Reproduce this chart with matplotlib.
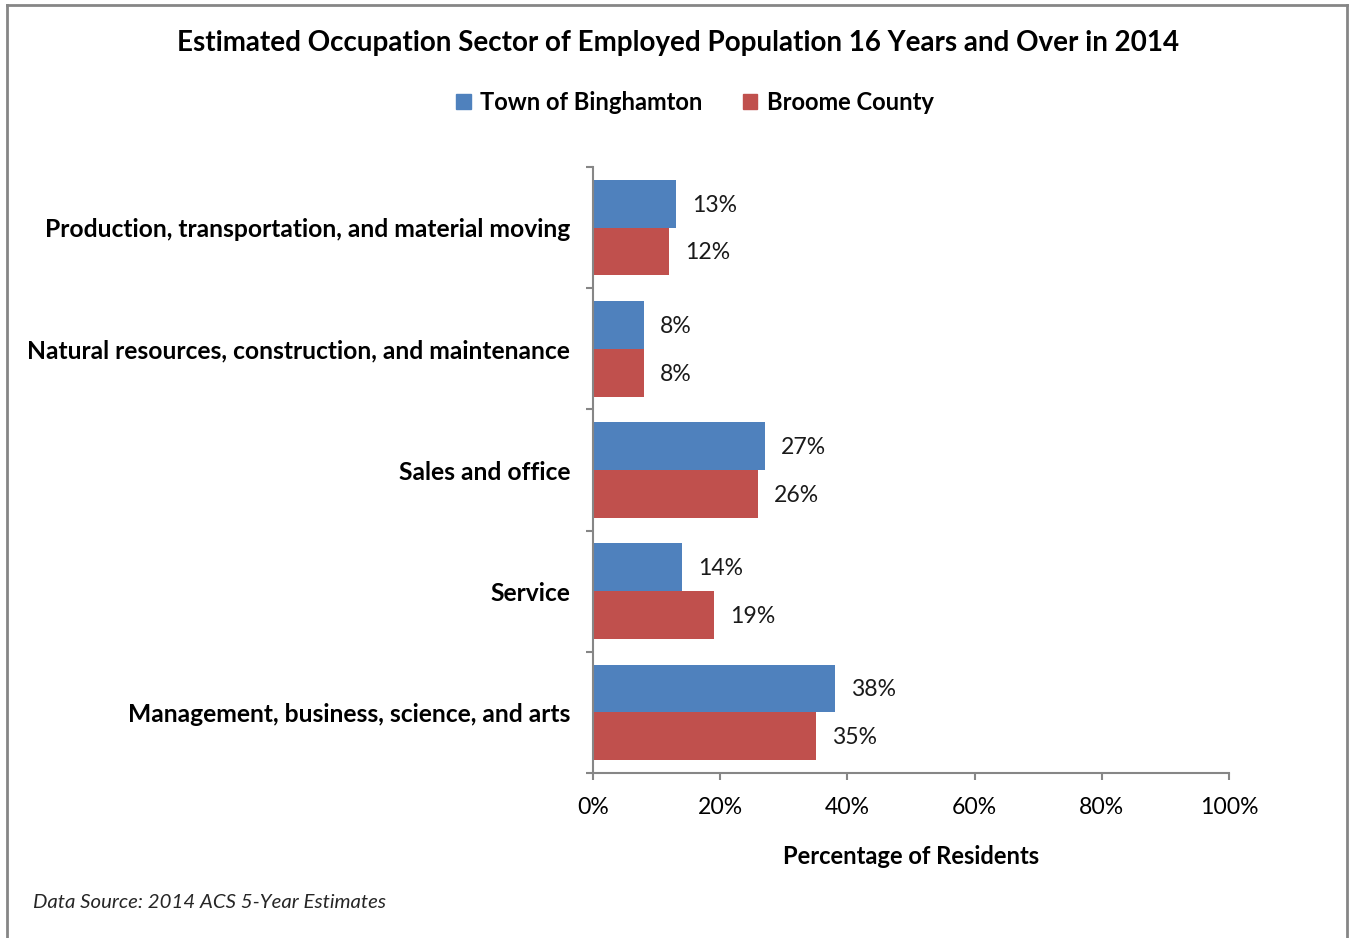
import matplotlib
matplotlib.use("Agg")
import matplotlib.pyplot as plt
from matplotlib.patches import Patch
from matplotlib.lines import Line2D
from matplotlib.ticker import FuncFormatter
import numpy as np

categories = [
    "Management, business, science, and arts",
    "Service",
    "Sales and office",
    "Natural resources, construction, and maintenance",
    "Production, transportation, and material moving",
]
town_values = [38, 14, 27, 8, 13]
county_values = [35, 19, 26, 8, 12]
series_names = ["Town of Binghamton", "Broome County"]
x_ticks = [0, 20, 40, 60, 80, 100]

BLUE = "#4F81BD"
RED = "#C0504D"
GREY = "#868686"
FONT = ["Lato", "DejaVu Sans"]

plt.rcParams["font.family"] = FONT

W, H = 1349, 938
fig = plt.figure(figsize=(W / 100, H / 100), dpi=100)
ax = fig.add_axes([593 / W, 1 - 773 / H, (1229 - 593) / W, (773 - 167) / H])

y = np.arange(len(categories))
h = 0.395
ax.barh(y + h / 2, town_values, height=h, color=BLUE, label=series_names[0])
ax.barh(y - h / 2, county_values, height=h, color=RED, label=series_names[1])

for yi, tv, cv in zip(y, town_values, county_values):
    ax.annotate(f"{tv}%", (tv, yi + h / 2), xytext=(11.5, -1), textcoords="offset points",
                va="center", ha="left", fontsize=16.6, color="#1a1a1a")
    ax.annotate(f"{cv}%", (cv, yi - h / 2), xytext=(11.5, -1), textcoords="offset points",
                va="center", ha="left", fontsize=16.6, color="#1a1a1a")

ax.set_xlim(0, 100)
ax.set_ylim(-0.5, len(categories) - 0.5)
ax.set_xticks(x_ticks)
ax.xaxis.set_major_formatter(FuncFormatter(lambda v, p: f"{v:.0f}%"))
ax.set_yticks(y)
ax.set_yticklabels(categories, fontsize=17.7, fontweight="bold")
ax.set_yticks(np.arange(-0.5, len(categories), 1), minor=True)
ax.tick_params(axis="y", which="major", length=0, pad=16.5)
ax.tick_params(axis="y", which="minor", length=5, width=1.5, color=GREY, direction="out")
ax.tick_params(axis="x", which="major", length=5, width=1.5, color=GREY, labelsize=16.6, pad=12)

for s in ["top", "right"]:
    ax.spines[s].set_visible(False)
for s in ["left", "bottom"]:
    ax.spines[s].set_color(GREY)
    ax.spines[s].set_linewidth(1.5)

ax.set_xlabel("Percentage of Residents", fontsize=17.1, fontweight="bold", labelpad=20)

fig.text(678 / W, 1 - 43 / H, "Estimated Occupation Sector of Employed Population 16 Years and Over in 2014",
         ha="center", va="center", fontsize=20, fontweight="bold")

handles = [Patch(color=BLUE, label=series_names[0]), Patch(color=RED, label=series_names[1])]
fig.legend(handles=handles, loc="center", bbox_to_anchor=(695 / W, 1 - 102 / H), ncol=2,
           frameon=False, prop={"weight": "bold", "size": 17.1}, handlelength=0.6, handleheight=0.6,
           handletextpad=0.4, columnspacing=1.7)

fig.text(33 / W, 1 - 902 / H, "Data Source: 2014 ACS 5-Year Estimates", ha="left", va="center",
         fontsize=14.7, style="italic", color="#262626")

# chart frame
fig.add_artist(Line2D([7 / W, 7 / W], [0, 1 - 5 / H], transform=fig.transFigure, color=GREY, lw=2))
fig.add_artist(Line2D([1347 / W, 1347 / W], [0, 1 - 5 / H], transform=fig.transFigure, color=GREY, lw=2))
fig.add_artist(Line2D([7 / W, 1347 / W], [1 - 5 / H, 1 - 5 / H], transform=fig.transFigure, color=GREY, lw=2))

fig.savefig("out.png", dpi=100)
